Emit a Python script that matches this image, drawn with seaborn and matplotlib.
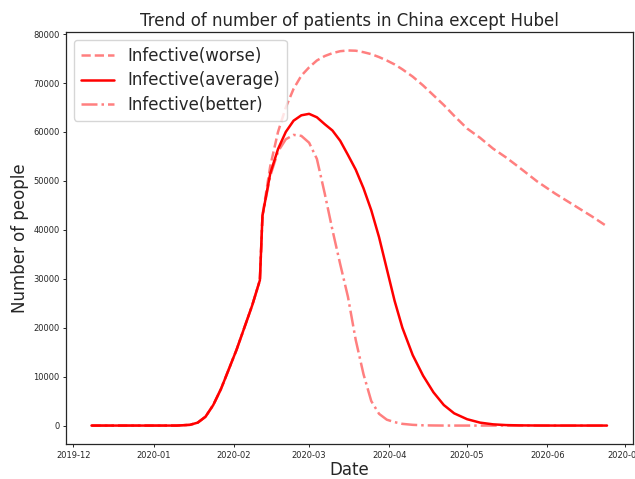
import matplotlib.pyplot as plt
import matplotlib.dates as mdates
import pandas as pd
import seaborn as sns

# sample dates
dates = ['2019-12-08', '2019-12-20', '2020-01-01', '2020-01-10', '2020-01-15',
         '2020-01-18', '2020-01-21', '2020-01-24', '2020-01-27', '2020-01-30',
         '2020-02-02', '2020-02-05', '2020-02-08', '2020-02-11', '2020-02-12',
         '2020-02-15', '2020-02-18', '2020-02-21', '2020-02-24', '2020-02-27',
         '2020-03-01', '2020-03-04', '2020-03-07', '2020-03-10', '2020-03-13',
         '2020-03-16', '2020-03-19', '2020-03-22', '2020-03-25', '2020-03-28',
         '2020-03-31', '2020-04-03', '2020-04-06', '2020-04-10', '2020-04-14',
         '2020-04-18', '2020-04-22', '2020-04-26', '2020-05-01', '2020-05-06',
         '2020-05-11', '2020-05-16', '2020-05-21', '2020-05-28', '2020-06-04',
         '2020-06-11', '2020-06-18', '2020-06-24']

worse = [0, 0, 0, 0, 150, 600, 1800, 4200, 7500, 11500,
         15500, 20000, 24500, 29700, 42900,
         53000, 60000, 65000, 68800, 71500,
         73200, 74600, 75500, 76100, 76500,
         76650, 76600, 76300, 75900, 75300,
         74600, 73800, 72800, 71300, 69500,
         67500, 65500, 63300, 60700, 58800,
         56600, 54800, 52800, 49900, 47400,
         45100, 42800, 40700]

average = [0, 0, 0, 0, 150, 600, 1800, 4200, 7500, 11500,
           15500, 20000, 24500, 29700, 42900,
           51500, 56500, 60000, 62300, 63400,
           63700, 63000, 61600, 60300, 58200,
           55300, 52300, 48500, 44000, 38500,
           32000, 25500, 20000, 14400, 10200,
           6800, 4200, 2500, 1300, 600,
           250, 100, 40, 10, 0,
           0, 0, 0]

better = [0, 0, 0, 0, 150, 600, 1800, 4200, 7500, 11500,
          15500, 20000, 24500, 29700, 42900,
          51000, 56000, 58500, 59400, 59200,
          57800, 54500, 47500, 40000, 33000,
          26300, 17500, 10500, 5000, 2400,
          1200, 700, 350, 150, 50,
          20, 0, 0, 0, 0,
          0, 0, 0, 0, 0,
          0, 0, 0]

df = pd.DataFrame({'date': pd.to_datetime(dates), 'worse': worse,
                   'average': average, 'better': better})

sns.set_style('ticks')
plt.rcParams['font.family'] = ['DejaVu Sans']

fig = plt.figure(figsize=(6.35, 4.79), dpi=100)
ax = fig.add_axes([0.1035, 0.0724, 0.893, 0.8614])

sns.lineplot(x='date', y='worse', data=df, ax=ax, color='red', alpha=0.5,
             linestyle='--', linewidth=1.8, label='Infective(worse)')
sns.lineplot(x='date', y='average', data=df, ax=ax, color='red',
             linestyle='-', linewidth=1.8, label='Infective(average)')
sns.lineplot(x='date', y='better', data=df, ax=ax, color='red', alpha=0.5,
             linestyle='-.', linewidth=1.8, label='Infective(better)')

ax.xaxis.set_major_locator(mdates.MonthLocator())
ax.xaxis.set_major_formatter(mdates.DateFormatter('%Y-%m'))
ax.tick_params(labelsize=6, length=2.5, width=0.7, pad=2)
for s in ax.spines.values():
    s.set_linewidth(0.9)
ax.set_title('Trend of number of patients in China except Hubel', fontsize=12, pad=4)
ax.set_xlabel('Date', fontsize=12, labelpad=1)
ax.set_ylabel('Number of people', fontsize=12, labelpad=3)
ax.legend(loc='upper left', fontsize=12, labelspacing=0.4)

fig.savefig('out.png', dpi=100)
